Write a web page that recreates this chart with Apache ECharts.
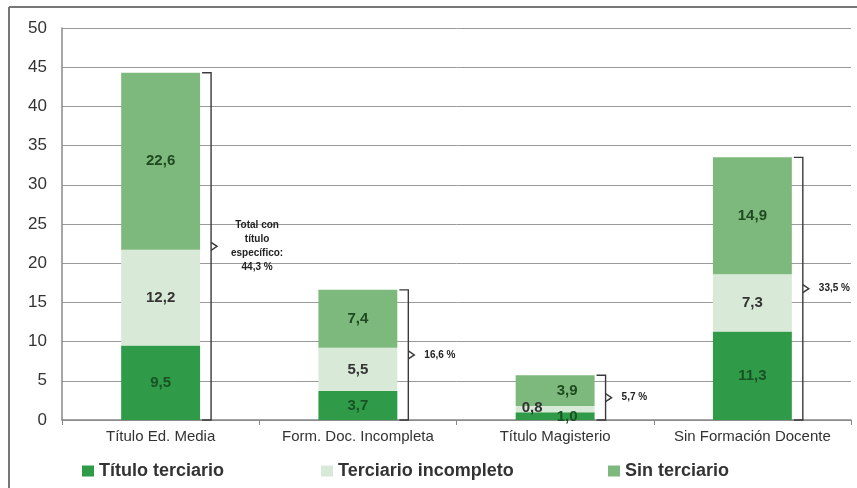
<!DOCTYPE html>
<html>
<head>
<meta charset="utf-8">
<script src="https://cdn.jsdelivr.net/npm/echarts@6/dist/echarts.min.js"></script>
<style>
  html, body { margin: 0; padding: 0; background: #fff; }
  #chart { width: 857px; height: 488px; }
</style>
</head>
<body>
<div id="chart"></div>
<script>
// Categories and stacked values (percent)
const categories = ['Título Ed. Media', 'Form. Doc. Incompleta', 'Título Magisterio', 'Sin Formación Docente'];
const tituloTerciario = [9.5, 3.7, 1.0, 11.3];
const terciarioIncompleto = [12.2, 5.5, 0.8, 7.3];
const sinTerciario = [22.6, 7.4, 3.9, 14.9];
const totals = [44.3, 16.6, 5.7, 33.5];
const totalLabels = ['Total con\ntítulo\nespecífico:\n44,3 %', '16,6 %', '5,7 %', '33,5 %'];
const seriesNames = ['Título terciario', 'Terciario incompleto', 'Sin terciario'];

const colors = ['#2f9a47', '#d8ead7', '#7db87c'];
const labelColors = ['#1a5223', '#333333', '#1e4a20'];
const font = '"Liberation Sans", Arial, sans-serif';

// small nudges for the crowded labels of the thin third bar
const labelOffsets = {
  0: { 2: [12, 1] },
  1: { 2: [-23, -1] },
  2: { 2: [12, 0] }
};

const fmt = v => v.toFixed(1).replace('.', ',');

function barData(values, s) {
  return values.map((v, i) => {
    const off = labelOffsets[s] && labelOffsets[s][i];
    return off ? { value: v, label: { offset: off } } : v;
  });
}

const allSeries = [tituloTerciario, terciarioIncompleto, sinTerciario].map((vals, s) => ({
  name: seriesNames[s],
  type: 'bar',
  stack: 'total',
  barWidth: '40%',
  itemStyle: { color: colors[s] },
  label: {
    show: true,
    position: 'inside',
    formatter: p => fmt(p.value),
    color: labelColors[s],
    fontFamily: font,
    fontWeight: 'bold',
    fontSize: 15
  },
  data: barData(vals, s)
}));

// brace to the right of each bar with its total
allSeries.push({
  type: 'custom',
  silent: true,
  z: 5,
  data: totals.map((t, i) => [i, t]),
  renderItem(params, api) {
    const i = api.value(0), t = api.value(1);
    const top = api.coord([i, t]);
    const bot = api.coord([i, 0]);
    const band = api.size([1, 0])[0];
    const x = top[0] + band * 0.2 + 11;
    const xl = x - 9;
    const mid = (top[1] + bot[1]) / 2;
    const label = totalLabels[params.dataIndex];
    const multi = label.indexOf('\n') >= 0;
    const line = { stroke: '#3a3a3a', lineWidth: 1.4, fill: null };
    return {
      type: 'group',
      children: [
        { type: 'polyline', shape: { points: [[xl, top[1]], [x, top[1]], [x, bot[1]], [xl, bot[1]]] }, style: line },
        { type: 'polyline', shape: { points: [[x, mid - 4], [x + 6, mid], [x, mid + 4]] }, style: line },
        {
          type: 'text',
          style: {
            text: label,
            x: multi ? x + 46 : x + 16,
            y: mid,
            align: multi ? 'center' : 'left',
            verticalAlign: 'middle',
            fill: '#222',
            font: 'bold 10px ' + font,
            lineHeight: 14
          }
        }
      ]
    };
  }
});

const legendPos = [77, 316, 603];

const chart = echarts.init(document.getElementById('chart'), null, { renderer: 'canvas' });
chart.setOption({
  backgroundColor: '#fff',
  animation: false,
  grid: { left: 62, right: 6, top: 28, bottom: 68, containLabel: false },
  legend: seriesNames.map((n, k) => ({
    data: [n],
    left: legendPos[k],
    top: 457,
    icon: 'rect',
    itemWidth: 12,
    itemHeight: 11,
    itemGap: 4,
    textStyle: { fontSize: 18, fontWeight: 'bold', color: '#333', fontFamily: font }
  })),
  xAxis: {
    type: 'category',
    data: categories,
    axisLine: { lineStyle: { color: '#888', width: 1.5 } },
    axisTick: { show: true, interval: 0, length: 5, lineStyle: { color: '#888' } },
    axisLabel: { interval: 0, hideOverlap: false, fontSize: 15, color: '#333', margin: 9, fontFamily: font }
  },
  yAxis: {
    type: 'value',
    min: 0,
    max: 50,
    interval: 5,
    axisLine: { show: true, lineStyle: { color: '#888', width: 1.5 } },
    axisTick: { show: false },
    splitLine: { lineStyle: { color: '#9a9a9a', width: 1 } },
    axisLabel: { fontSize: 17, color: '#333', margin: 15, fontFamily: font }
  },
  graphic: [
    { type: 'line', shape: { x1: 9, y1: 7, x2: 857, y2: 7 }, style: { stroke: '#777', lineWidth: 2 } },
    { type: 'line', shape: { x1: 9, y1: 7, x2: 9, y2: 488 }, style: { stroke: '#777', lineWidth: 2 } }
  ],
  series: allSeries
});
</script>
</body>
</html>
